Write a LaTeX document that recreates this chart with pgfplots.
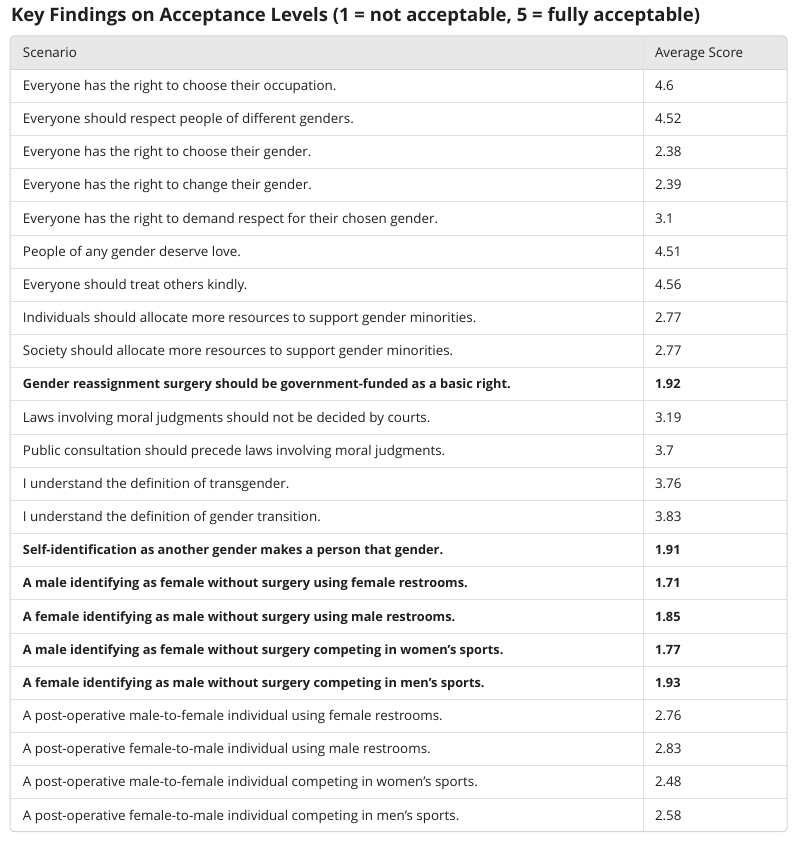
\documentclass[border=0pt]{standalone}
\usepackage{pgfplots}
\usepackage{pgfplotstable}
\pgfplotsset{compat=1.18}
\usepackage{fontspec}
\setmainfont{Open Sans}
\definecolor{txt}{HTML}{1F1F1F}
\definecolor{hdr}{HTML}{E8E8E8}
\definecolor{gridc}{HTML}{E0E0E0}
\definecolor{brd}{HTML}{D4D4D4}

\pgfplotstableread[col sep=semicolon]{
row;text;score
1;Everyone has the right to choose their occupation.;4.6
2;Everyone should respect people of different genders.;4.52
3;Everyone has the right to choose their gender.;2.38
4;Everyone has the right to change their gender.;2.39
5;Everyone has the right to demand respect for their chosen gender.;3.1
6;People of any gender deserve love.;4.51
7;Everyone should treat others kindly.;4.56
8;Individuals should allocate more resources to support gender minorities.;2.77
9;Society should allocate more resources to support gender minorities.;2.77
11;Laws involving moral judgments should not be decided by courts.;3.19
12;Public consultation should precede laws involving moral judgments.;3.7
13;I understand the definition of transgender.;3.76
14;I understand the definition of gender transition.;3.83
20;A post-operative male-to-female individual using female restrooms.;2.76
21;A post-operative female-to-male individual using male restrooms.;2.83
22;A post-operative male-to-female individual competing in women’s sports.;2.48
23;A post-operative female-to-male individual competing in men’s sports.;2.58
}\normalrows

\pgfplotstableread[col sep=semicolon]{
row;text;score
10;Gender reassignment surgery should be government-funded as a basic right.;1.92
15;Self-identification as another gender makes a person that gender.;1.91
16;A male identifying as female without surgery using female restrooms.;1.71
17;A female identifying as male without surgery using male restrooms.;1.85
18;A male identifying as female without surgery competing in women’s sports.;1.77
19;A female identifying as male without surgery competing in men’s sports.;1.93
}\boldrows

\pgfplotstableread[col sep=semicolon]{
row;text
0;Scenario
}\headrow
\pgfplotstableread[col sep=semicolon]{
row;text
0;Average Score
}\headrowb

\newcommand{\rowH}{33.16}
\newcommand{\topY}{69.3}

\begin{document}
\begin{tikzpicture}
\useasboundingbox (0,0) rectangle (799pt,848pt);
\begin{axis}[
  at={(0,0)}, anchor=south west,
  scale only axis, width=799pt, height=848pt,
  xmin=0, xmax=799, ymin=0, ymax=848, y dir=reverse,
  hide axis, clip=false,
  point meta=explicit symbolic,
  nodes near coords,
  nodes near coords align={horizontal},
  every node near coord/.append style={anchor=base west, inner sep=0pt, outer sep=0pt, text=txt, font=\fontsize{13.4}{15}\selectfont},
]
% table decoration
\fill[hdr] (axis cs:10,\topY) [rounded corners=4pt] -- (axis cs:10,36) -- (axis cs:787,36) [sharp corners] -- (axis cs:787,\topY) -- cycle;
\pgfplotsinvokeforeach{1,...,22}{
  \draw[gridc, line width=1pt] (axis cs:10,{\topY+\rowH*#1}) -- (axis cs:787,{\topY+\rowH*#1});
}
\draw[brd, line width=1pt] (axis cs:10,\topY) -- (axis cs:787,\topY);
\draw[gridc, line width=1pt] (axis cs:643,36) -- (axis cs:643,831.7);
\draw[brd, line width=1pt, rounded corners=4pt] (axis cs:10,36) rectangle (axis cs:787,831.7);
% title
\node[anchor=base west, inner sep=0pt, text=txt, font=\fontsize{18.5}{22}\selectfont\bfseries] at (axis cs:11,22) {Key Findings on Acceptance Levels (1 = not acceptable, 5 = fully acceptable)};
% header
\addplot[draw=none, mark=none] table[x expr=23, y expr=57.1, meta=text] {\headrow};
\addplot[draw=none, mark=none] table[x expr=655, y expr=57.1, meta=text] {\headrowb};
% normal rows
\addplot[draw=none, mark=none] table[x expr=23, y expr={\topY+\rowH*(\thisrow{row}-0.5)+4.6}, meta=text] {\normalrows};
\addplot[draw=none, mark=none] table[x expr=655, y expr={\topY+\rowH*(\thisrow{row}-0.5)+4.6}, meta=score] {\normalrows};
% bold rows
\addplot[draw=none, mark=none, every node near coord/.append style={font=\fontsize{12.8}{15}\selectfont\bfseries}] table[x expr=23, y expr={\topY+\rowH*(\thisrow{row}-0.5)+4.6}, meta=text] {\boldrows};
\addplot[draw=none, mark=none, every node near coord/.append style={font=\fontsize{12.8}{15}\selectfont\bfseries}] table[x expr=655, y expr={\topY+\rowH*(\thisrow{row}-0.5)+4.6}, meta=score] {\boldrows};
\end{axis}
\end{tikzpicture}
\end{document}
